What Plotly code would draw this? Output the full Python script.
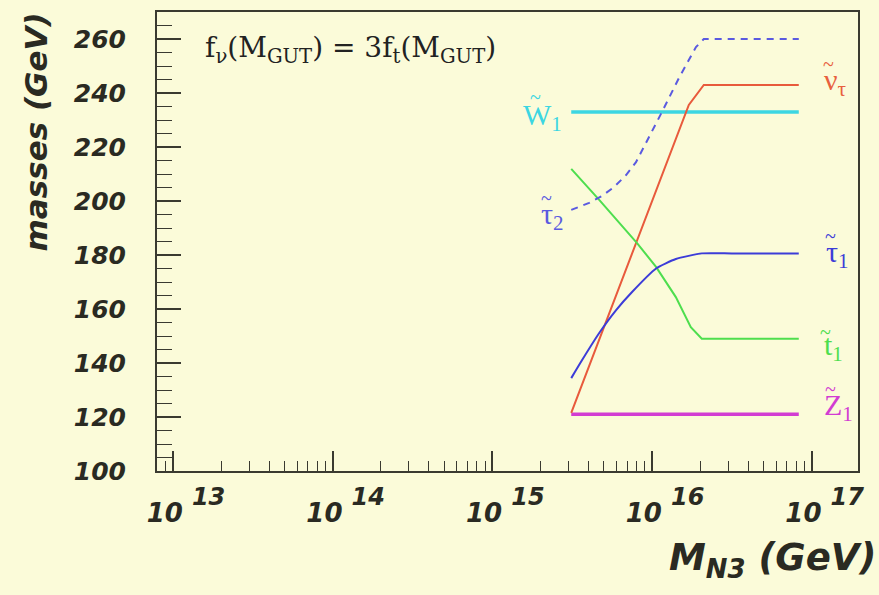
import plotly.graph_objects as go

# Right-handed neutrino mass scale M_N3 (GeV) and sparticle masses (GeV)
m_flat = [3.12e15, 8.3e16]
w1_mass = [233, 233]
z1_mass = [121, 121]

nu_tau_m = [3.12e15, 1.70e16, 2.11e16, 8.3e16]
nu_tau_mass = [121.5, 235.6, 243, 243]

stau1_m = [3.12e15, 3.65e15, 4.67e15, 5.96e15, 7.50e15, 1.06e16, 1.41e16, 2.05e16,
           3.16e16, 8.3e16]
stau1_mass = [134.4, 141.1, 151.1, 159.6, 166.3, 175.0, 178.5, 180.6, 180.6, 180.6]

stop1_m = [3.12e15, 4.67e15, 8.06e15, 1.06e16, 1.41e16, 1.75e16, 2.05e16, 8.3e16]
stop1_mass = [211.9, 200.4, 184.4, 175.6, 164.4, 153.3, 149.0, 149.0]

stau2_m = [3.12e15, 4.04e15, 4.87e15, 5.79e15, 6.88e15, 7.94e15, 1.155e16,
           1.476e16, 1.884e16, 2.11e16, 8.3e16]
stau2_mass = [196.7, 199.3, 201.9, 205.2, 209.6, 214.4, 233.0, 245.6, 257.0, 260, 260]

y_ticks = [100, 120, 140, 160, 180, 200, 220, 240, 260]
x_decades = [13, 14, 15, 16, 17]
NB = "\u00a0"
x_tick_text = [
    f"<sub><span style='font-size:26px'>10</span></sub>{NB}"
    f"<sup><span style='font-size:24px'>{d}</span></sup>"
    for d in x_decades
]

BG = "#fbfbd9"
AXIS = "#3a3a30"
C_W1, C_Z1, C_NU, C_STOP, C_STAU1, C_STAU2 = (
    "#3cd6e2", "#d23cd2", "#e85a3c", "#4ede4e", "#3c3cd8", "#5a5ae0")

fig = go.Figure()

fig.add_trace(go.Scatter(x=m_flat, y=w1_mass, mode="lines", line=dict(color=C_W1, width=3.5)))
fig.add_trace(go.Scatter(x=m_flat, y=z1_mass, mode="lines", line=dict(color=C_Z1, width=3.5)))
fig.add_trace(go.Scatter(x=nu_tau_m, y=nu_tau_mass, mode="lines", line=dict(color=C_NU, width=2)))
fig.add_trace(go.Scatter(x=stop1_m, y=stop1_mass, mode="lines", line=dict(color=C_STOP, width=2)))
fig.add_trace(go.Scatter(x=stau1_m, y=stau1_mass, mode="lines",
                         line=dict(color=C_STAU1, width=2, shape="spline", smoothing=0.5)))
fig.add_trace(go.Scatter(x=stau2_m, y=stau2_mass, mode="lines",
                         line=dict(color=C_STAU2, width=2, dash="7px,6px")))

serif = "Liberation Serif"
sans_bold_it = dict(family="DejaVu Sans", weight="bold", style="italic", color="#2a2a22")

# (letter, subscript, log10 x of left edge, y of letter centre, colour, tilde x offset, tilde y offset)
curve_labels = [
    ("W", "1", 15.181, 231.1, C_W1, 14, 20),
    ("\u03c4", "2", 15.294, 194.4, C_STAU2, 7, 18),
    ("\u03bd", "\u03c4", 17.0625, 244.0, "#e8603e", 7, 18),
    ("\u03c4", "1", 17.075, 180.4, C_STAU1, 7, 18),
    ("t", "1", 17.0625, 145.9, C_STOP, 4, 15),
    ("Z", "1", 17.0625, 123.7, C_Z1, 9, 18),
]
annotations = []
for letter, sub, lx, ly, col, tdx, tdy in curve_labels:
    annotations.append(dict(
        text=f"{letter}<sub>{sub}</sub>", x=lx, y=ly, xref="x", yref="y", showarrow=False,
        xanchor="left", yanchor="middle", font=dict(family=serif, size=30, color=col)))
    annotations.append(dict(
        text="~", x=lx, y=ly, xref="x", yref="y", showarrow=False, xshift=tdx, yshift=tdy,
        xanchor="center", yanchor="middle", font=dict(family=serif, size=20, color=col)))

annotations += [
    dict(text="f<sub>\u03bd</sub>(M<sub>GUT</sub>) = 3f<sub>t</sub>(M<sub>GUT</sub>)",
         x=0.066, y=0.918, xref="paper", yref="paper", showarrow=False,
         xanchor="left", yanchor="middle", font=dict(family="DejaVu Serif", size=28, color="#222")),
    dict(text="masses (GeV)", textangle=-90, x=-0.1726, y=0.7375, xref="paper", yref="paper",
         showarrow=False, xanchor="center", yanchor="middle", font=dict(size=31, **sans_bold_it)),
    dict(text="M<sub>N3</sub> (GeV)", x=1.0285, y=-0.193, xref="paper", yref="paper",
         showarrow=False, xanchor="right", yanchor="middle", font=dict(size=37, **sans_bold_it)),
]

minor_x = [k * 10.0 ** n for n in range(12, 17) for k in range(2, 10)]

fig.update_layout(
    width=879, height=595,
    margin=dict(l=157, r=21, t=10, b=124),
    paper_bgcolor=BG, plot_bgcolor=BG,
    showlegend=False,
    annotations=annotations,
    xaxis=dict(
        type="log", range=[12.9, 17.29],
        tickvals=[10.0 ** d for d in x_decades], ticktext=x_tick_text,
        ticks="inside", ticklen=20, tickwidth=1.5, tickcolor=AXIS,
        ticklabelshift=13, ticklabelstandoff=12,
        minor=dict(tickvals=minor_x, ticks="inside", ticklen=10, tickwidth=1.2, tickcolor=AXIS),
        showgrid=False, zeroline=False,
        showline=True, linecolor=AXIS, linewidth=2, mirror=True,
        tickfont=dict(size=26, **sans_bold_it),
    ),
    yaxis=dict(
        range=[100, 270], tickvals=y_ticks,
        ticks="inside", ticklen=24, tickwidth=1.5, tickcolor=AXIS,
        ticklabelstandoff=24,
        minor=dict(dtick=5, ticks="inside", ticklen=15, tickwidth=1.2, tickcolor=AXIS),
        showgrid=False, zeroline=False,
        showline=True, linecolor=AXIS, linewidth=2, mirror=True,
        tickfont=dict(size=25, **sans_bold_it),
    ),
)

fig.write_html("out.html")
